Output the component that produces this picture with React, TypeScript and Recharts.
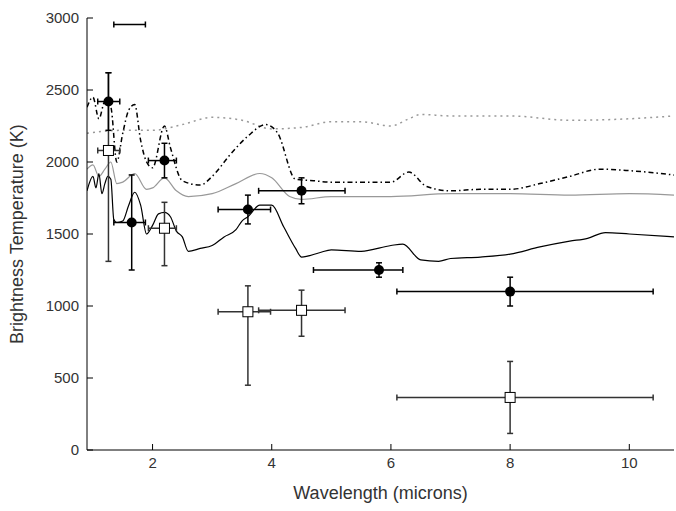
import { ComposedChart, Line, Scatter, ErrorBar, XAxis, YAxis } from "recharts";

const blackModel = [
  [0.9, 1800], [1.0, 1900], [1.05, 1820], [1.1, 1920], [1.15, 1780], [1.2, 1850], [1.25, 1900], [1.3, 1880],
  [1.35, 1600], [1.4, 1580], [1.5, 1590], [1.6, 1700], [1.7, 1790], [1.8, 1700], [1.9, 1500], [2.0, 1560],
  [2.1, 1640], [2.2, 1650], [2.3, 1620], [2.4, 1520], [2.5, 1480], [2.6, 1380], [2.8, 1400], [3.0, 1420],
  [3.2, 1480], [3.4, 1530], [3.5, 1590], [3.6, 1620], [3.8, 1700], [4.0, 1700], [4.2, 1550], [4.4, 1400],
  [4.5, 1340], [4.8, 1370], [5.0, 1390], [5.5, 1380], [6.0, 1420], [6.2, 1430], [6.5, 1320], [6.8, 1310],
  [7.0, 1330], [7.5, 1340], [8.0, 1360], [8.5, 1410], [9.0, 1450], [9.3, 1470], [9.6, 1510], [10.0, 1500],
  [10.75, 1480],
];
const grayModel = [
  [0.9, 1950], [1.0, 1980], [1.1, 1900], [1.2, 1950], [1.3, 2000], [1.4, 1850], [1.5, 1860], [1.7, 1920],
  [1.9, 1810], [2.0, 1820], [2.2, 1890], [2.4, 1800], [2.6, 1760], [3.0, 1780], [3.4, 1850], [3.8, 1920],
  [4.0, 1890], [4.3, 1760], [4.5, 1740], [5.0, 1760], [6.0, 1760], [7.0, 1780], [8.0, 1780], [9.0, 1770],
  [10.0, 1780], [10.75, 1770],
];
const dashDotModel = [
  [0.9, 2380], [1.0, 2450], [1.1, 2300], [1.2, 2420], [1.3, 2380], [1.4, 2000], [1.5, 2200], [1.6, 2360],
  [1.7, 2400], [1.8, 2150], [1.9, 2000], [2.0, 1960], [2.2, 2250], [2.3, 2100], [2.5, 1870], [2.8, 1840],
  [3.0, 1900], [3.3, 2050], [3.6, 2180], [3.9, 2260], [4.1, 2200], [4.4, 1880], [4.7, 1870], [5.0, 1860],
  [6.0, 1860], [6.3, 1930], [6.6, 1830], [7.0, 1800], [7.5, 1810], [8.0, 1810], [8.5, 1850], [9.0, 1900],
  [9.5, 1950], [10.0, 1940], [10.75, 1910],
];
const dottedModel = [
  [0.9, 2200], [1.5, 2220], [2.0, 2220], [2.5, 2260], [3.0, 2310], [3.5, 2290], [4.0, 2230], [4.5, 2240],
  [5.0, 2280], [5.5, 2280], [6.0, 2250], [6.3, 2300], [6.5, 2330], [7.0, 2320], [8.0, 2320], [9.0, 2290],
  [10.0, 2300], [10.75, 2320],
];

// [x, y, xerrLow, xerrHigh, yerrLow, yerrHigh]
const circles = [
  [1.26, 2420, 0.18, 0.19, 200, 200], [1.65, 1580, 0.3, 0.23, 330, 330], [2.2, 2010, 0.27, 0.2, 120, 120],
  [3.6, 1670, 0.5, 0.38, 100, 100], [4.5, 1800, 0.72, 0.73, 90, 90], [5.8, 1250, 1.1, 0.4, 50, 50],
  [8.0, 1100, 1.9, 2.4, 100, 100],
];
const squares = [
  [1.26, 2080, 0.18, 0.19, 770, 540], [2.2, 1540, 0.27, 0.2, 260, 180], [3.6, 960, 0.5, 0.38, 510, 180],
  [4.5, 970, 0.72, 0.73, 180, 140], [8.0, 365, 1.9, 2.4, 250, 250],
];
const scaleBar = [[1.6, 2955, 0.25, 0.28, 0, 0]];

const xTicks = [2, 4, 6, 8, 10];
const yTicks = [0, 500, 1000, 1500, 2000, 2500, 3000];

const toLine = (a: number[][]) => a.map(([x, y]) => ({ x, y }));
const toPts = (a: number[][]) => a.map(([x, y, xl, xh, yl, yh]) => ({ x, y, ex: [xl, xh], ey: [yl, yh] }));

const font = "'Liberation Sans', Arial, sans-serif";

const BottomTick = (p: any) => (
  <g>
    <path d={`M${p.x},${p.y - 8}V${p.y - 14}`} stroke="#000" strokeWidth={1} fill="none" />
    <text x={p.x} y={p.y + 10} textAnchor="middle" fontSize={15} fill="#333" fontFamily={font}>{p.payload.value}</text>
  </g>
);
const LeftTick = (p: any) => (
  <g>
    <path d={`M${p.x + 8},${p.y}H${p.x + 14}`} stroke="#000" strokeWidth={1} fill="none" />
    <text x={p.x} y={p.y + 5} textAnchor="end" fontSize={15} fill="#333" fontFamily={font}>{p.payload.value}</text>
  </g>
);
const TopTick = (p: any) => <path d={`M${p.x},${p.y}V${p.y + 6}`} stroke="#000" strokeWidth={1} fill="none" />;
const RightTick = (p: any) => <path d={`M${p.x},${p.y}H${p.x - 6}`} stroke="#000" strokeWidth={1} fill="none" />;

const Dot = (p: any) => <circle cx={p.cx} cy={p.cy} r={5} fill="#000" />;
const Box = (p: any) => <rect x={p.cx - 5} y={p.cy - 5} width={10} height={10} fill="#fff" stroke="#000" />;
const NoShape = () => <g />;

export default function App() {
  return (
    <div style={{ position: "absolute", left: 0, top: 0, background: "#fff" }}>
      <ComposedChart width={676} height={511} margin={{ top: 18, right: 2, bottom: 0, left: 27 }}>
        <XAxis type="number" dataKey="x" domain={[0.9, 10.75]} ticks={xTicks} allowDataOverflow
          stroke="#000" tickLine={false} tickSize={0} tickMargin={8} tick={<BottomTick />} height={61}
          label={{ value: "Wavelength (microns)", position: "insideBottom", offset: 12, fontSize: 18, fill: "#333", fontFamily: font }} />
        <XAxis xAxisId="top" orientation="top" type="number" domain={[0.9, 10.75]} ticks={xTicks}
          stroke="#000" tickLine={false} tickSize={0} tickMargin={0} tick={<TopTick />} height={0} />
        <YAxis type="number" dataKey="y" domain={[0, 3000]} ticks={yTicks} stroke="#000" tickLine={false} tickSize={0}
          tickMargin={8} tick={<LeftTick />} width={60}
          label={{ value: "Brightness Temperature (K)", angle: -90, position: "insideLeft", offset: -10, dy: 110, fontSize: 18, fill: "#333", fontFamily: font }} />
        <YAxis yAxisId="right" orientation="right" type="number" domain={[0, 3000]} ticks={yTicks}
          stroke="#000" tickLine={false} tickSize={0} tickMargin={0} tick={<RightTick />} width={0} />
        <Line data={toLine(dottedModel)} dataKey="y" type="monotone" stroke="#999" strokeWidth={1.5} strokeDasharray="2 4" dot={false} isAnimationActive={false} />
        <Line data={toLine(dashDotModel)} dataKey="y" type="monotone" stroke="#000" strokeWidth={1.5} strokeDasharray="5 3 1.5 3" dot={false} isAnimationActive={false} />
        <Line data={toLine(grayModel)} dataKey="y" type="monotone" stroke="#999" strokeWidth={1.2} dot={false} isAnimationActive={false} />
        <Line data={toLine(blackModel)} dataKey="y" type="monotone" stroke="#000" strokeWidth={1.2} dot={false} isAnimationActive={false} />
        <Scatter data={toPts(squares)} dataKey="y" shape={<Box />} isAnimationActive={false}>
          <ErrorBar dataKey="ex" direction="x" stroke="#333" width={3} />
          <ErrorBar dataKey="ey" direction="y" stroke="#333" width={3} />
        </Scatter>
        <Scatter data={toPts(circles)} dataKey="y" shape={<Dot />} isAnimationActive={false}>
          <ErrorBar dataKey="ex" direction="x" stroke="#000" width={3} />
          <ErrorBar dataKey="ey" direction="y" stroke="#000" width={3} />
        </Scatter>
        <Scatter data={toPts(scaleBar)} dataKey="y" shape={<NoShape />} isAnimationActive={false}>
          <ErrorBar dataKey="ex" direction="x" stroke="#000" width={3} />
        </Scatter>
      </ComposedChart>
    </div>
  );
}
